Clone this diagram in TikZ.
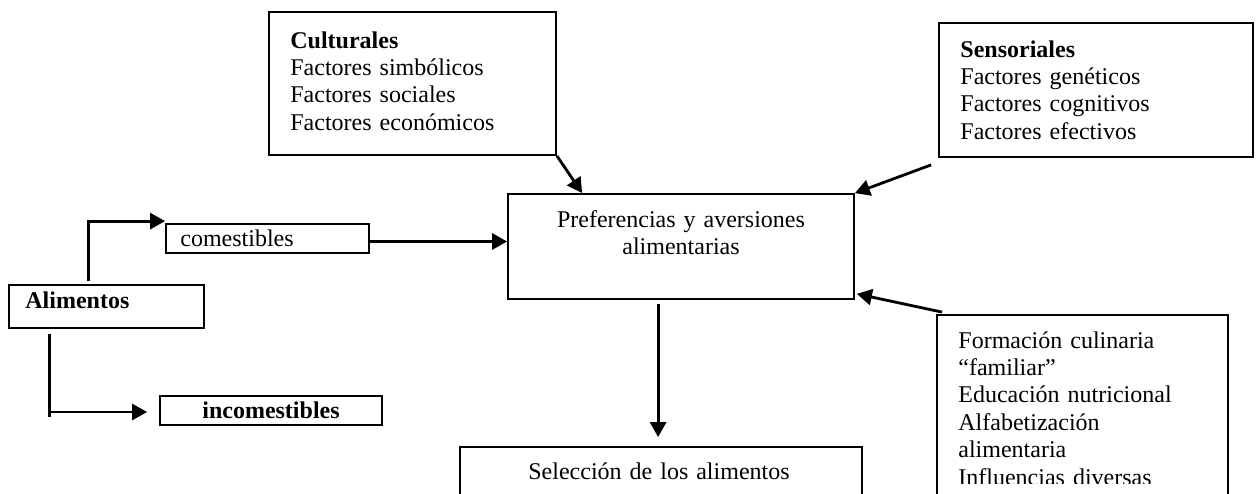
\documentclass[tikz,border=0pt]{standalone}
\usepackage{fontspec}
\setmainfont{Liberation Serif}
\usetikzlibrary{arrows.meta,calc,fit}
\begin{document}
\begin{tikzpicture}[x=0.5pt,y=-0.5pt,
  box/.style={draw=black,line width=0.9pt,inner sep=0pt,rectangle},
  txt/.style={inner sep=0pt,font=\fontsize{12pt}{13.7pt}\selectfont,text width=#1},
  txt/.default=150pt,
  arr/.style={line width=1.4pt,-{Triangle[length=7.5pt,width=8pt]}},
  plain/.style={line width=1.4pt}]
\useasboundingbox (0,0) rectangle (1256,493);
\fill[white] (0,0) rectangle (1256,493);
\clip (0,0) rectangle (1256,493);
% boxes
\node[box,fit={(269,12) (556,155)}] (cult) {};
\node[box,fit={(939,23) (1253,157)}] (sens) {};
\node[box,fit={(508,194) (854,299)}] (pref) {};
\node[box,fit={(937,315) (1228,530)}] (form) {};
\node[box,fit={(460,447) (862,530)}] (sel) {};
\node[box,fit={(9,285) (204,328)}] (ali) {};
\node[box,fit={(166,224) (369,253)}] (com) {};
\node[box,fit={(160,396) (382,425)}] (inc) {};
% texts
\node[txt,anchor=base west,align=left] (culttxt) at (290,48)
  {\textbf{Culturales}\\Factores simbólicos\\Factores sociales\\Factores económicos};
\node[txt,anchor=base west,align=left] (senstxt) at (960,57)
  {\textbf{Sensoriales}\\Factores genéticos\\Factores cognitivos\\Factores efectivos};
\node[txt,anchor=base,align=center] (preftxt) at (681,227)
  {Preferencias y aversiones\\alimentarias};
\begin{scope}
\clip (937,300) rectangle (1228,483.5);
\node[txt,anchor=base west,align=left] (formtxt) at (958,348)
  {Formación culinaria\\“familiar”\\Educación nutricional\\Alfabetización\\alimentaria\\Influencias diversas};
\end{scope}
\node[txt,anchor=base,align=center] (seltxt) at (659,479) {Selección de los alimentos};
\node[txt=80pt,anchor=base west,align=left] (alitxt) at (25,308) {\textbf{Alimentos}};
\node[txt=80pt,anchor=base west,align=left] (comtxt) at (180,246) {comestibles};
\node[txt=100pt,anchor=base,align=center] (inctxt) at (271,418) {\textbf{incomestibles}};
% connectors
\draw[arr] ($(ali.north west)+(80,-3)$) coordinate (a0) |- ($(com.north west)+(0,-2)$);
\draw[plain] ($(ali.south west)+(41,5)$) coordinate (a1) -- ($(a1)+(0,83)$) coordinate (a2);
\draw[arr] (a1 |- inc.west) ++(0,1.5) coordinate (a3) -- ($(inc.west)+(-12,1.5)$);
\draw[arr] ($(com.east)+(0,3)$) coordinate (c1) -- (c1 -| pref.west);
\draw[arr] (cult.south east) -- ($(pref.north west)+(75,0)$);
\draw[arr] ($(sens.south west)+(-7,7)$) coordinate (s1) -- (pref.north east);
\draw[arr] ($(form.north west)+(6,-2)$) coordinate (f1) -- ($(pref.south east)+(2,-6)$);
\draw[arr] ($(pref.south west)+(151,4)$) coordinate (p1) -- ($(sel.north west)+(199,-9)$);
\end{tikzpicture}
\end{document}
